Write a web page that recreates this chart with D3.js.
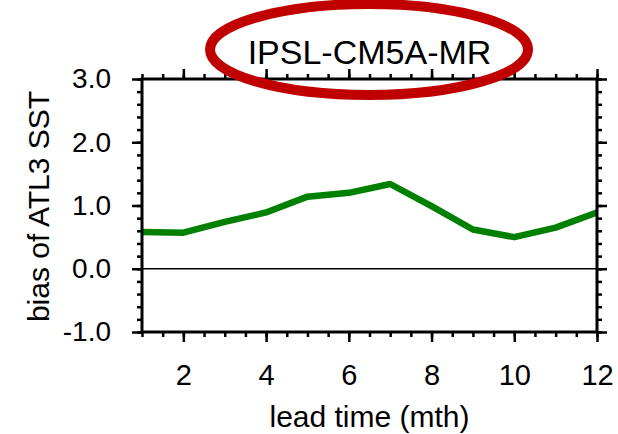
<!DOCTYPE html>
<html><head><meta charset="utf-8">
<script src="https://cdn.jsdelivr.net/npm/d3@7"></script>
<style>body{margin:0;background:#fff}svg{display:block}text{font-family:"Liberation Sans",Arial,Helvetica,sans-serif;fill:#000}</style>
</head><body>
<script>
const leadTimes = [1,2,3,4,5,6,7,8,9,10,11,12];
const biasValues = [0.58,0.57,0.74,0.89,1.14,1.20,1.34,0.99,0.62,0.50,0.65,0.89];
const xTickValues = [2,4,6,8,10,12];
const yTickValues = [-1,0,1,2,3];
const yTickLabels = ["-1.0","0.0","1.0","2.0","3.0"];
const titleText = "IPSL-CM5A-MR";
const xLabel = "lead time (mth)";
const yLabel = "bias of ATL3 SST";

const W=618,H=434;
const m={l:142,r:597,t:79,b:332};
const svg=d3.select("body").append("svg").attr("width",W).attr("height",H);
const x=d3.scaleLinear().domain([1,12]).range([m.l,m.r]);
const y=d3.scaleLinear().domain([-1,3]).range([m.b,m.t]);

const xMinor=d3.range(1,12.01,0.5);
const yMinor=d3.range(-1,3.01,0.2).map(v=>+v.toFixed(2));
const fmtY=v=>yTickLabels[yTickValues.indexOf(v)];

function styleAxis(g){g.select(".domain").remove();g.selectAll("line").attr("stroke","#000").attr("stroke-width",2.5);}

// minor ticks
svg.append("g").attr("transform",`translate(0,${m.b})`).call(d3.axisBottom(x).tickValues(xMinor).tickSize(5).tickFormat("")).call(styleAxis);
svg.append("g").attr("transform",`translate(0,${m.t})`).call(d3.axisTop(x).tickValues(xMinor).tickSize(5).tickFormat("")).call(styleAxis);
svg.append("g").attr("transform",`translate(${m.l},0)`).call(d3.axisLeft(y).tickValues(yMinor).tickSize(5).tickFormat("")).call(styleAxis);
svg.append("g").attr("transform",`translate(${m.r},0)`).call(d3.axisRight(y).tickValues(yMinor).tickSize(5).tickFormat("")).call(styleAxis);

// major ticks
const bx=svg.append("g").attr("transform",`translate(0,${m.b})`).call(d3.axisBottom(x).tickValues(xTickValues).tickSize(10).tickPadding(22)).call(styleAxis);
bx.selectAll("text").attr("font-size",29).attr("dy","0.71em");
svg.append("g").attr("transform",`translate(0,${m.t})`).call(d3.axisTop(x).tickValues(xTickValues).tickSize(10).tickFormat("")).call(styleAxis);
const ly=svg.append("g").attr("transform",`translate(${m.l},0)`).call(d3.axisLeft(y).tickValues(yTickValues).tickSize(10).tickPadding(21).tickFormat(fmtY)).call(styleAxis);
ly.selectAll("text").attr("font-size",28);
svg.append("g").attr("transform",`translate(${m.r},0)`).call(d3.axisRight(y).tickValues(yTickValues).tickSize(10).tickFormat("")).call(styleAxis);

// zero line
svg.append("line").attr("x1",m.l).attr("x2",m.r).attr("y1",y(0)).attr("y2",y(0)).attr("stroke","#000").attr("stroke-width",1.5);

// data line
svg.append("path").datum(leadTimes.map((d,i)=>[d,biasValues[i]]))
 .attr("fill","none").attr("stroke","#008000").attr("stroke-width",6.5).attr("stroke-linejoin","round")
 .attr("d",d3.line().x(d=>x(d[0])).y(d=>y(d[1])));

// frame
svg.append("rect").attr("x",m.l).attr("y",m.t).attr("width",m.r-m.l).attr("height",m.b-m.t).attr("fill","none").attr("stroke","#000").attr("stroke-width",3);

// title
svg.append("text").attr("x",(m.l+m.r)/2).attr("y",64).attr("text-anchor","middle").attr("font-size",34).text(titleText);
// annotation ellipse
svg.append("ellipse").attr("cx",369).attr("cy",49.5).attr("rx",159).attr("ry",45.5).attr("fill","none").attr("stroke","#c00000").attr("stroke-width",10);

// axis labels
svg.append("text").attr("x",(m.l+m.r)/2).attr("y",427).attr("text-anchor","middle").attr("font-size",30).text(xLabel);
svg.append("text").attr("transform",`translate(49,${(m.t+m.b)/2+1}) rotate(-90)`).attr("text-anchor","middle").attr("font-size",30).text(yLabel);
</script>
</body></html>
